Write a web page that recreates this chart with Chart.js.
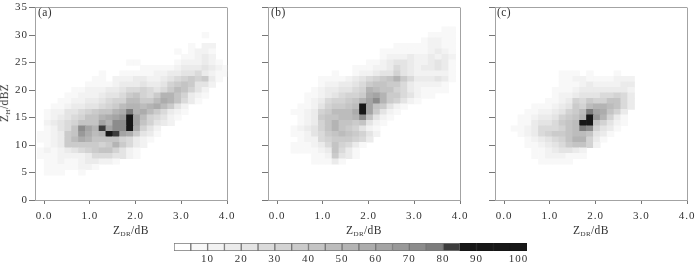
<!DOCTYPE html>
<html>
<head>
<meta charset="utf-8">
<script src="https://cdn.jsdelivr.net/npm/chart.js@4"></script>
<style>
  body { margin: 0; background: #fff; width: 700px; height: 263px; overflow: hidden; position: relative; }
  canvas { position: absolute; }
  .lbl { position: absolute; font: 11.5px "Liberation Serif", serif; color: #333; white-space: nowrap; letter-spacing: 0.4px; }
  .lbl sub { font-size: 7px; vertical-align: -2px; line-height: 0; }
</style>
</head>
<body>
<canvas id="panelA" width="240" height="236" style="left:0;top:0"></canvas>
<canvas id="panelB" width="240" height="236" style="left:233px;top:0"></canvas>
<canvas id="panelC" width="240" height="236" style="left:460px;top:0"></canvas>
<canvas id="colorBar" width="400" height="23" style="left:150px;top:240px"></canvas>
<div class="lbl" style="left:38px;top:6px">(a)</div>
<div class="lbl" style="left:271px;top:6px">(b)</div>
<div class="lbl" style="left:497px;top:6px">(c)</div>
<div class="lbl" style="left:113px;top:224px">Z<sub>DR</sub>/dB</div>
<div class="lbl" style="left:346px;top:224px">Z<sub>DR</sub>/dB</div>
<div class="lbl" style="left:573px;top:224px">Z<sub>DR</sub>/dB</div>
<div class="lbl" style="left:-15px;top:97px;transform:rotate(-90deg)">Z<sub>H</sub>/dBZ</div>
<script>
// bin sizes of the 2D histogram
const binX = 0.15;
const binY = 1;

// panel (a): reflectivity bin, first ZDR column of the row, counts from there on
const rowYA = [30, 28, 27, 26, 25, 24, 23, 22, 21, 20, 19, 18, 17, 16, 15, 14, 13, 12, 11, 10, 9, 8, 7, 6, 5];
const startA = [23, 21, 19, 20, 12, 14, 8, 7, 6, 4, 3, 2, 1, 0, 0, 0, 0, -1, -1, 0, -1, -1, 0, 0, 0];
const countsA = [
  [7],
  [7, 0, 12, 12],
  [7, 0, 7, 12, 12, 7],
  [7, 7, 12, 17, 12],
  [7, 7, 0, 0, 0, 0, 0, 7, 12, 12, 12, 17, 12, 7],
  [7, 7, 7, 7, 7, 12, 17, 17, 17, 22, 17, 12, 7],
  [7, 0, 0, 7, 7, 7, 7, 7, 12, 12, 17, 17, 22, 22, 27, 17, 12, 7, 7],
  [7, 7, 0, 12, 12, 12, 17, 17, 12, 12, 17, 22, 27, 32, 37, 32, 37, 17, 7],
  [7, 7, 7, 7, 12, 17, 17, 17, 22, 17, 17, 22, 32, 37, 42, 37, 22, 22, 12],
  [7, 7, 12, 12, 12, 17, 17, 22, 27, 27, 32, 27, 22, 27, 37, 47, 42, 32, 22, 12],
  [7, 7, 12, 12, 12, 17, 22, 22, 27, 37, 42, 32, 27, 37, 52, 52, 42, 32, 17, 12, 7],
  [7, 7, 12, 12, 17, 17, 22, 27, 32, 32, 47, 47, 37, 37, 47, 57, 52, 42, 27, 17, 7],
  [7, 7, 12, 17, 17, 22, 22, 27, 32, 37, 47, 52, 52, 47, 52, 57, 47, 37, 22, 12],
  [7, 12, 12, 22, 22, 27, 32, 37, 42, 42, 52, 57, 77, 52, 57, 47, 37, 27, 17, 12, 7],
  [7, 12, 17, 22, 27, 32, 42, 42, 52, 57, 62, 67, 95, 62, 47, 32, 27, 22, 12, 7],
  [12, 17, 22, 27, 32, 42, 42, 42, 62, 52, 72, 72, 95, 62, 42, 32, 22, 17, 12],
  [7, 12, 22, 27, 42, 72, 62, 52, 82, 62, 72, 72, 95, 57, 32, 22, 12],
  [7, 7, 12, 17, 37, 42, 67, 57, 47, 52, 95, 82, 62, 57, 37, 22, 17, 7],
  [7, 7, 12, 17, 37, 47, 57, 52, 42, 42, 42, 42, 32, 27, 17, 12, 7],
  [7, 12, 17, 37, 37, 37, 37, 37, 32, 37, 52, 37, 27, 17, 12],
  [7, 12, 7, 12, 17, 22, 27, 32, 37, 42, 42, 32, 22, 12, 7],
  [7, 7, 7, 12, 12, 12, 12, 17, 27, 27, 27, 22, 22, 12, 7],
  [7, 7, 12, 7, 7, 12, 17, 17, 12, 12, 7],
  [7, 7, 7, 7, 7, 12, 12, 7],
  [7, 7, 7, 0, 0, 7]
];

// panel (b)
const rowYB = [31, 30, 29, 28, 27, 26, 25, 24, 23, 22, 21, 20, 19, 18, 17, 16, 15, 14, 13, 12, 11, 10, 9, 8, 7];
const startB = [24, 22, 21, 17, 15, 15, 13, 11, 8, 6, 6, 5, 4, 4, 3, 2, 3, 3, 2, 2, 3, 2, 2, 5, 5];
const countsB = [
  [7, 7],
  [7, 7, 7, 7],
  [7, 12, 12, 7, 7],
  [7, 7, 7, 7, 7, 12, 12, 7, 7],
  [7, 7, 7, 7, 7, 7, 7, 12, 17, 12, 7],
  [7, 12, 12, 12, 17, 12, 12, 17, 12, 17, 12],
  [7, 7, 12, 17, 22, 22, 17, 12, 12, 17, 22, 17, 7],
  [7, 7, 7, 12, 12, 17, 27, 22, 17, 12, 17, 17, 22, 17, 7],
  [7, 0, 0, 7, 12, 12, 17, 22, 22, 32, 22, 17, 12, 12, 12, 12, 12, 7],
  [7, 7, 7, 7, 12, 17, 22, 27, 32, 37, 42, 52, 37, 27, 17, 17, 17, 22, 17, 7],
  [7, 12, 12, 17, 17, 22, 27, 37, 42, 42, 37, 37, 27, 17, 12, 12, 12, 12, 7],
  [7, 12, 17, 17, 22, 22, 27, 32, 52, 47, 42, 42, 32, 27, 17, 12, 7, 7, 7, 7],
  [7, 7, 12, 17, 22, 27, 32, 32, 37, 57, 62, 52, 37, 37, 27, 22, 12, 7, 7],
  [7, 12, 17, 27, 32, 32, 37, 42, 52, 62, 72, 52, 37, 32, 22, 12, 7],
  [7, 7, 12, 22, 32, 37, 37, 42, 47, 95, 62, 42, 37, 22, 12, 7],
  [7, 7, 12, 17, 32, 37, 47, 47, 47, 57, 95, 62, 37, 22, 12, 7],
  [7, 12, 17, 37, 42, 42, 47, 47, 52, 72, 42, 22, 12, 7],
  [7, 12, 17, 32, 42, 52, 42, 42, 37, 42, 22, 12, 7],
  [7, 12, 17, 22, 32, 42, 52, 42, 37, 32, 22, 12, 7],
  [7, 7, 12, 22, 27, 37, 42, 47, 42, 37, 32, 22, 12],
  [7, 12, 12, 27, 32, 37, 37, 37, 32, 27, 17],
  [7, 7, 7, 12, 17, 27, 42, 32, 27, 17, 7],
  [7, 7, 7, 7, 12, 17, 42, 27, 17, 7],
  [7, 7, 12, 37, 22, 17, 7],
  [7, 7, 7, 17, 7]
];

// panel (c)
const rowYC = [23, 22, 21, 20, 19, 18, 17, 16, 15, 14, 13, 12, 11, 10, 9, 8, 7];
const startC = [8, 8, 8, 7, 7, 6, 4, 3, 2, 2, 1, 2, 3, 3, 4, 4, 5];
const countsC = [
  [7, 7, 7, 0, 7, 0, 0, 0, 7],
  [7, 7, 12, 12, 7, 7, 7, 7, 12, 12, 12],
  [7, 7, 7, 12, 17, 12, 12, 12, 12, 17, 17],
  [7, 7, 7, 12, 17, 17, 17, 17, 17, 17, 17, 12],
  [7, 12, 12, 17, 22, 22, 22, 27, 27, 32, 27, 17],
  [7, 7, 12, 17, 32, 27, 37, 32, 32, 42, 42, 27, 17],
  [7, 7, 7, 12, 17, 22, 37, 32, 47, 52, 52, 47, 42, 27, 17],
  [7, 7, 12, 12, 17, 22, 32, 37, 47, 77, 62, 57, 42, 32, 17],
  [7, 7, 12, 17, 17, 22, 32, 37, 42, 52, 95, 67, 52, 32, 17, 7],
  [7, 7, 17, 22, 22, 27, 37, 42, 47, 87, 95, 42, 32, 22, 12, 7],
  [7, 7, 12, 17, 27, 27, 27, 32, 42, 47, 77, 72, 32, 22, 17, 7],
  [7, 12, 17, 27, 32, 37, 37, 42, 47, 47, 42, 22, 17, 7],
  [7, 12, 17, 22, 27, 32, 42, 52, 52, 32, 17, 7],
  [7, 7, 12, 17, 22, 27, 37, 42, 42, 32, 12],
  [7, 7, 12, 17, 22, 22, 17, 12],
  [7, 7, 12, 12, 12, 7, 7, 7],
  [7, 7, 7, 7, 7]
];

// colour scale, one grey for every 5 counts
const levelStep = 5;
const greys = ["#ffffff", "#f8f8f8", "#f2f2f2", "#ebebeb", "#e4e4e4", "#dadada", "#d3d3d3", "#cbcbcb", "#c4c4c4",
  "#bcbcbc", "#b4b4b4", "#acacac", "#a4a4a4", "#999999", "#8c8c8c", "#7c7c7c", "#3c3c3c", "#171717", "#171717",
  "#171717", "#171717"];
const barTickPos = [10, 20, 30, 40, 50, 60, 70, 80, 90, 102.5];
const barTickLabels = ["10", "20", "30", "40", "50", "60", "70", "80", "90", "100"];

const frame = "#a3a3a3";
const tickMark = "#777";
const textColor = "#333";
const serif = { family: "'Liberation Serif', serif", size: 11 };

function greyFor(v) {
  return greys[Math.min(Math.floor(v / levelStep), greys.length - 1)];
}

function toCells(rowY, start, counts) {
  const cells = [];
  rowY.forEach((y, r) => {
    counts[r].forEach((v, i) => {
      if (v > 0) {
        cells.push({ x: (start[r] + i + 0.5) * binX, y: [y - binY / 2, y + binY / 2], v });
      }
    });
  });
  return cells;
}

const spacing = { id: "spacing", beforeDraw: c => { c.ctx.letterSpacing = "1px"; } };

function drawPanel(id, cells, showY) {
  new Chart(document.getElementById(id), {
    type: "bar",
    data: {
      datasets: [{
        data: cells,
        backgroundColor: c => greyFor(c.raw.v),
        borderWidth: 0,
        grouped: false,
        barPercentage: 1,
        categoryPercentage: 1
      }]
    },
    plugins: [spacing],
    options: {
      responsive: false,
      animation: false,
      events: [],
      layout: { padding: { top: 3, right: 8 } },
      plugins: { legend: { display: false }, tooltip: { enabled: false } },
      scales: {
        x: {
          type: "linear",
          offset: false,
          min: -0.2,
          max: 4,
          afterFit: s => { s.height = 36; },
          border: { color: frame },
          grid: {
            offset: false,
            color: c => c.tick && c.tick.value === 4 ? frame : "transparent",
            tickColor: tickMark,
            tickLength: 4
          },
          ticks: {
            stepSize: 1,
            includeBounds: false,
            maxRotation: 0,
            autoSkip: false,
            color: textColor,
            font: serif,
            padding: 6,
            callback: v => v.toFixed(1)
          }
        },
        y: {
          min: 0,
          max: 35,
          afterFit: s => { s.width = 35; },
          border: { color: frame },
          grid: {
            color: c => c.tick && c.tick.value === 35 ? frame : "transparent",
            tickColor: tickMark,
            tickLength: 6
          },
          ticks: {
            stepSize: 5,
            color: textColor,
            font: serif,
            padding: 1,
            callback: v => showY ? String(v) : ""
          }
        }
      }
    }
  });
}

drawPanel("panelA", toCells(rowYA, startA, countsA), true);
drawPanel("panelB", toCells(rowYB, startB, countsB), false);
drawPanel("panelC", toCells(rowYC, startC, countsC), false);

new Chart(document.getElementById("colorBar"), {
  type: "bar",
  data: {
    datasets: [{
      data: greys.map((g, i) => ({ x: (i + 0.5) * levelStep, y: [0, 1] })),
      backgroundColor: greys,
      borderColor: greys.map((g, i) => i >= 17 ? g : "#777"),
      borderWidth: 1,
      borderSkipped: false,
      barPercentage: 1,
      categoryPercentage: 1
    }]
  },
  plugins: [spacing],
  options: {
    responsive: false,
    animation: false,
    events: [],
    layout: { padding: { left: 24, right: 23, top: 3 } },
    plugins: { legend: { display: false }, tooltip: { enabled: false } },
    scales: {
      x: {
        type: "linear",
        offset: false,
        min: 0,
        max: greys.length * levelStep,
        afterFit: s => { s.height = 12; },
        afterBuildTicks: s => { s.ticks = barTickPos.map(value => ({ value })); },
        border: { display: false },
        grid: { display: false, drawTicks: false, offset: false },
        ticks: {
          autoSkip: false,
          maxRotation: 0,
          color: textColor,
          font: serif,
          padding: 2,
          callback: (v, i) => barTickLabels[i]
        }
      },
      y: { display: false, min: 0, max: 1 }
    }
  }
});
</script>
</body>
</html>
